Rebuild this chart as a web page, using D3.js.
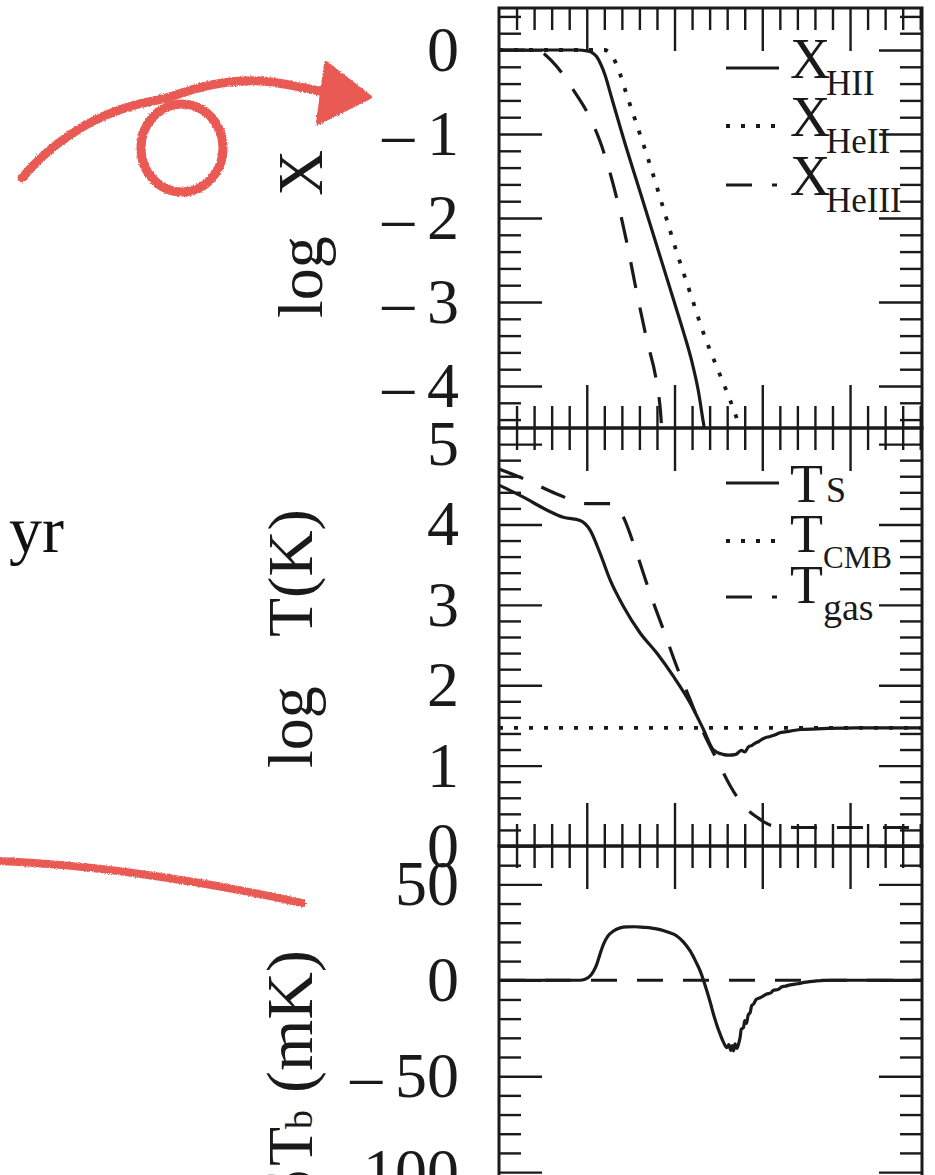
<!DOCTYPE html>
<html>
<head>
<meta charset="utf-8">
<script src="https://cdn.jsdelivr.net/npm/d3@7"></script>
<style>
  body { margin: 0; background: #fff; }
  svg { display: block; }
</style>
</head>
<body>
<div id="chart"></div>
<script>
// x is in plot units (one major tick = 1)
const xHII   = [[0,0],[0.9,0],[1.0,-0.01],[1.06,-0.03],[1.114,-0.08],[1.16,-0.17],[1.209,-0.3],[1.285,-0.575],[1.418,-1.05],[1.608,-1.69],[1.798,-2.33],[1.988,-2.97],[2.1,-3.35],[2.2,-3.72],[2.27,-4.05],[2.34,-4.5],[2.36,-4.6]];
const xHeII  = [[0,0],[1.2,0],[1.26,-0.03],[1.3,-0.09],[1.342,-0.18],[1.456,-0.535],[1.57,-0.89],[1.722,-1.37],[1.874,-1.89],[2.026,-2.41],[2.178,-2.89],[2.33,-3.37],[2.48,-3.77],[2.634,-4.17],[2.73,-4.45],[2.76,-4.55]];
const xHeIII = [[0,0],[0.45,0],[0.52,-0.05],[0.6,-0.13],[0.733,-0.295],[0.85,-0.48],[1.0,-0.734],[1.152,-1.09],[1.304,-1.61],[1.456,-2.29],[1.57,-2.89],[1.684,-3.45],[1.798,-3.97],[1.84,-4.3],[1.86,-4.6]];

const tSpin = [[0,4.49],[0.278,4.34],[0.544,4.18],[0.733,4.09],[0.924,4.05],[1.038,3.93],[1.152,3.64],[1.266,3.31],[1.418,2.98],[1.608,2.65],[1.798,2.40],[1.988,2.11],[2.178,1.78],[2.33,1.45],[2.44,1.20],[2.55,1.14],[2.62,1.13],[2.70,1.14],[2.76,1.19],[2.8,1.17],[2.84,1.23],[2.88,1.25],[2.92,1.28],[2.96,1.30],[3.0,1.33],[3.04,1.35],[3.08,1.36],[3.14,1.38],[3.2,1.41],[3.26,1.42],[3.32,1.43],[3.45,1.45],[3.69,1.46],[4.07,1.47],[4.82,1.47]];
const tCMB  = [[0,1.47],[4.82,1.47]];
const tGas  = [[0,4.69],[0.278,4.57],[0.658,4.38],[0.99,4.26],[1.30,4.26],[1.36,4.2],[1.418,4.09],[1.57,3.64],[1.722,3.14],[1.874,2.69],[2.026,2.23],[2.178,1.82],[2.33,1.41],[2.48,1.08],[2.634,0.75],[2.786,0.50],[2.938,0.36],[3.128,0.25],[3.39,0.23],[4.82,0.23]];

const dTb = [[0,0],[0.92,0],[0.98,0.5],[1.038,2.2],[1.08,5],[1.114,8.3],[1.15,13.5],[1.19,18.7],[1.24,23],[1.304,25.7],[1.38,27.3],[1.456,27.8],[1.55,27.9],[1.646,27.6],[1.74,27.2],[1.836,26.4],[1.93,25],[2.026,23.1],[2.1,20],[2.178,15.3],[2.24,10],[2.292,4.9],[2.33,0],[2.368,-5.5],[2.41,-12],[2.444,-17.7],[2.48,-23],[2.52,-28.1],[2.56,-32.5],[2.596,-35.1],[2.62,-33.5],[2.64,-36.5],[2.66,-34],[2.672,-36.8],[2.69,-33.2],[2.71,-35.5],[2.729,-33.3],[2.75,-29],[2.76,-25.5],[2.786,-24.7],[2.8,-21],[2.82,-22.5],[2.84,-18],[2.862,-16.9],[2.88,-13],[2.9,-12.5],[2.93,-10],[2.976,-9.1],[3.0,-8.5],[3.05,-7.2],[3.1,-6.5],[3.128,-5.2],[3.18,-4.8],[3.22,-3.5],[3.26,-3.1],[3.32,-2.4],[3.4,-1.8],[3.5,-1.0],[3.62,-0.3],[3.8,0],[4.82,0]];
const dTbZero = [[0,0],[4.82,0]];

const ionLabels  = ["HII", "HeII", "HeIII"];
const tempLabels = ["S", "CMB", "gas"];

const yTicks1 = [-4, -3, -2, -1, 0];
const yTicks2 = [0, 1, 2, 3, 4, 5];
const yTicks3 = [-150, -100, -50, 0, 50];

const serif = "'Liberation Serif', 'DejaVu Serif', serif";
const ink = "#1a1a1a";
const red = "#ea5a54";

const svg = d3.select("#chart").append("svg")
    .attr("width", 935)
    .attr("height", 1175);

const defs = svg.append("defs");
const rough = defs.append("filter").attr("id", "rough")
    .attr("x", "-10%").attr("y", "-10%").attr("width", "120%").attr("height", "120%");
rough.append("feTurbulence").attr("type", "fractalNoise").attr("baseFrequency", 0.9)
    .attr("numOctaves", 2).attr("seed", 3).attr("result", "noise");
rough.append("feDisplacementMap").attr("in", "SourceGraphic").attr("in2", "noise")
    .attr("scale", 3).attr("xChannelSelector", "R").attr("yChannelSelector", "G");

const x = d3.scaleLinear().domain([0, 4.82]).range([499, 922]);

const styles = {
    solid:  { w: 3.2, dash: null },
    dotted: { w: 3.8, dash: "4,11" },
    dashed: { w: 3.2, dash: "26,20" }
};

// long minus like the TeX one
function minusFmt(d) {
    return d < 0 ? "\u2013\u2009" + Math.abs(d) : String(d);
}

function step(a, b, s) {
    const n = Math.round((b - a) / s);
    return d3.range(n + 1).map(i => +(a + i * s).toFixed(4));
}

function addAxis(axis, tx, ty) {
    const g = svg.append("g")
        .attr("transform", `translate(${tx},${ty})`)
        .call(axis);
    g.select(".domain").remove();
    g.selectAll("line").attr("stroke", ink).attr("stroke-width", 2.4);
    g.selectAll("text")
        .attr("font-family", serif)
        .attr("font-size", 64)
        .attr("fill", ink);
    return g;
}

function drawPanel(cfg) {
    const y = d3.scaleLinear().domain(cfg.domain).range([cfg.bottom, cfg.top]);

    defs.append("clipPath").attr("id", "clip-" + cfg.id)
        .append("rect")
        .attr("x", 499).attr("y", cfg.top)
        .attr("width", 423).attr("height", cfg.bottom - cfg.top);

    // x ticks on top and bottom, pointing in
    const xMinor = step(0.2, 4.8, 0.2).filter(v => Math.abs(v - Math.round(v)) > 1e-6);
    const xMajor = [1, 2, 3, 4];
    addAxis(d3.axisTop(x).tickValues(xMinor).tickSize(-22).tickFormat(""), 0, cfg.top);
    addAxis(d3.axisTop(x).tickValues(xMajor).tickSize(-43).tickFormat(""), 0, cfg.top);
    addAxis(d3.axisBottom(x).tickValues(xMinor).tickSize(-22).tickFormat(""), 0, cfg.bottom);
    addAxis(d3.axisBottom(x).tickValues(xMajor).tickSize(-43).tickFormat(""), 0, cfg.bottom);

    // y ticks left and right
    addAxis(d3.axisLeft(y).tickValues(cfg.minor).tickSize(-22).tickFormat(""), 499, 0);
    addAxis(d3.axisLeft(y).tickValues(cfg.major).tickSize(-43).tickPadding(40).tickFormat(minusFmt), 499, 0);
    addAxis(d3.axisRight(y).tickValues(cfg.minor).tickSize(-22).tickFormat(""), 922, 0);
    addAxis(d3.axisRight(y).tickValues(cfg.major).tickSize(-43).tickFormat(""), 922, 0);

    svg.append("rect")
        .attr("x", 499).attr("y", cfg.top)
        .attr("width", 423).attr("height", cfg.bottom - cfg.top)
        .attr("fill", "none")
        .attr("stroke", ink)
        .attr("stroke-width", 3);

    const line = d3.line()
        .x(d => x(d[0]))
        .y(d => y(d[1]))
        .curve(d3.curveMonotoneX);

    const plot = svg.append("g").attr("clip-path", `url(#clip-${cfg.id})`);
    cfg.series.forEach(s => {
        const st = styles[s.style];
        plot.append("path")
            .datum(s.data)
            .attr("d", line)
            .attr("fill", "none")
            .attr("stroke", ink)
            .attr("stroke-width", st.w)
            .attr("stroke-dasharray", st.dash);
    });
    return y;
}

function legendRow(style, lineY, mainText, mainY, mainSize, subText, subX, subY, subSize) {
    const st = styles[style];
    svg.append("line")
        .attr("x1", 726).attr("x2", style === "dashed" ? 777 : 779)
        .attr("y1", lineY).attr("y2", lineY)
        .attr("stroke", ink)
        .attr("stroke-width", st.w)
        .attr("stroke-dasharray", st.dash);
    svg.append("text")
        .attr("x", 790).attr("y", mainY)
        .attr("font-family", serif).attr("font-size", mainSize)
        .attr("fill", ink)
        .text(mainText);
    svg.append("text")
        .attr("x", subX).attr("y", subY)
        .attr("font-family", serif).attr("font-size", subSize)
        .attr("fill", ink)
        .text(subText);
}

function yTitle(parts) {
    parts.forEach(p => {
        svg.append("text")
            .attr("transform", `translate(${p.x},${p.y}) rotate(-90)`)
            .attr("font-family", serif)
            .attr("font-size", p.size)
            .attr("fill", ink)
            .text(p.t);
    });
}

// panel 1: ionised fractions
drawPanel({
    id: "ion", top: 8, bottom: 428, domain: [-4.5, 0.5],
    major: yTicks1,
    minor: step(-4.4, 0.4, 0.2).filter(v => Math.abs(v - Math.round(v)) > 1e-6),
    series: [
        { data: xHII, style: "solid" },
        { data: xHeII, style: "dotted" },
        { data: xHeIII, style: "dashed" }
    ]
});
const ionStyles = ["solid", "dotted", "dashed"];
[68, 126, 185].forEach((ly, i) => {
    legendRow(ionStyles[i], ly, "X", ly + 10, 56, ionLabels[i], 826, ly + 27, 35);
});

// panel 2: temperatures
drawPanel({
    id: "temp", top: 428, bottom: 846, domain: [0, 5.2],
    major: yTicks2,
    minor: step(0.2, 5.0, 0.2).filter(v => Math.abs(v - Math.round(v)) > 1e-6),
    series: [
        { data: tSpin, style: "solid" },
        { data: tCMB, style: "dotted" },
        { data: tGas, style: "dashed" }
    ]
});
legendRow("solid", 483, "T", 502, 54, tempLabels[0], 826, 502, 36);
legendRow("dotted", 541, "T", 552, 54, tempLabels[1], 823, 568, 31);
legendRow("dashed", 597, "T", 603, 54, tempLabels[2], 823, 620, 38);

// panel 3: brightness temperature
drawPanel({
    id: "tb", top: 846, bottom: 1268, domain: [-150, 70],
    major: yTicks3,
    minor: step(-140, 60, 10).filter(v => v % 50 !== 0),
    series: [
        { data: dTbZero, style: "dashed" },
        { data: dTb, style: "solid" }
    ]
});

// rotated axis titles
yTitle([{ t: "log", x: 322, y: 318, size: 64 }, { t: "X", x: 322, y: 196, size: 64 }]);
yTitle([{ t: "log", x: 312, y: 768, size: 64 }, { t: "T(K)", x: 312, y: 637, size: 64 }]);
yTitle([
    { t: "(mK)", x: 312, y: 1093, size: 66 },
    { t: "b", x: 312, y: 1129, size: 38 },
    { t: "T", x: 312, y: 1166, size: 64 },
    { t: "\u03b4", x: 312, y: 1200, size: 64 }
]);

// text fragment and red hand-drawn marks on the left
svg.append("text")
    .attr("x", 64).attr("y", 552)
    .attr("text-anchor", "end")
    .attr("font-family", serif).attr("font-size", 66)
    .attr("fill", "#111")
    .text("yr");

const marks = svg.append("g").attr("filter", "url(#rough)");
marks.append("path")
    .attr("d", "M22,178 C45,150 85,118 135,105 C150,101 160,100 170,97 C195,88 225,79 262,81 C285,83 305,88 328,93")
    .attr("fill", "none").attr("stroke", red).attr("stroke-width", 9).attr("stroke-linecap", "round");
marks.append("ellipse")
    .attr("cx", 182).attr("cy", 148).attr("rx", 41).attr("ry", 44)
    .attr("fill", "none").attr("stroke", red).attr("stroke-width", 9);
marks.append("path")
    .attr("d", "M326,63 L370,97 L318,123 Z")
    .attr("fill", red).attr("stroke", red).attr("stroke-width", 4).attr("stroke-linejoin", "round");
marks.append("path")
    .attr("d", "M-4,861 C80,864 190,878 302,903")
    .attr("fill", "none").attr("stroke", red).attr("stroke-width", 8).attr("stroke-linecap", "round");
</script>
</body>
</html>
